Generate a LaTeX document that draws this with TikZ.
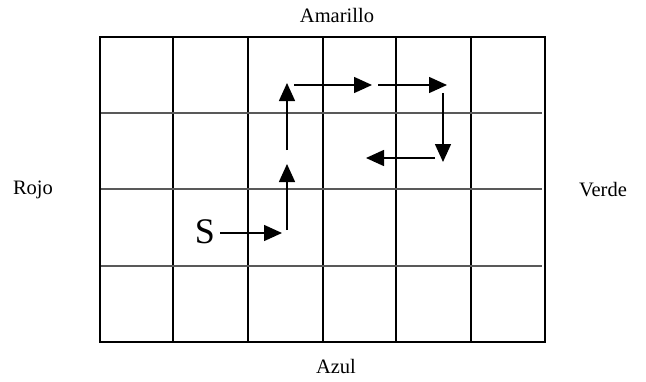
\documentclass[tikz,border=0pt]{standalone}
\usepackage{fontspec}
\setmainfont{Liberation Serif}
\usetikzlibrary{arrows.meta}
\begin{document}
\begin{tikzpicture}[x=1pt,y=-1pt,
  vline/.style={line width=1.2pt,black},
  hline/.style={line width=1.2pt,black!65},
  mv/.style={line width=1.5pt,-{Triangle[length=18pt,width=16pt]}},
  lbl/.style={font=\fontsize{20.5}{24}\selectfont,inner sep=0pt}]
\useasboundingbox (0,0) rectangle (646,381);
% grid
\foreach \x in {173,248,323,396,471} \draw[vline] (\x,37) -- (\x,342);
\foreach \y in {113,189,266} \draw[hline] (100,\y) -- (542,\y);
\draw[vline] (100,37) rectangle (545,342);
% labels
\node[lbl] (am) at (337,15) {Amarillo};
\node[lbl] (ro) at (33,190) {Rojo};
\node[lbl] (ve) at (603,190) {Verde};
\node[lbl] (az) at (336,366) {Azul};
\node[font=\fontsize{36}{40}\selectfont,inner sep=0pt] (s) at (205,232) {S};
% path coordinates
\coordinate (a0) at ([xshift=5pt]s.east);
\coordinate (a1) at (282,233);
\coordinate (b0) at (287,230);
\coordinate (b1) at (287,164);
\coordinate (c0) at (287,150);
\coordinate (c1) at (287,83);
\coordinate (d0) at (294,85);
\coordinate (d1) at (372,85);
\coordinate (e0) at (378,85);
\coordinate (e1) at (447,85);
\coordinate (f0) at (443,93);
\coordinate (f1) at (443,162);
\coordinate (g0) at (435,158);
\coordinate (g1) at (366,158);
\draw[mv] (a0 |- a1) -- (a1);
\draw[mv] (b0) -- (b1);
\draw[mv] (c0) -- (c1);
\draw[mv] (d0) -- (d1);
\draw[mv] (e0) -- (e1);
\draw[mv] (f0) -- (f1);
\draw[mv] (g0) -- (g1);
\end{tikzpicture}
\end{document}
